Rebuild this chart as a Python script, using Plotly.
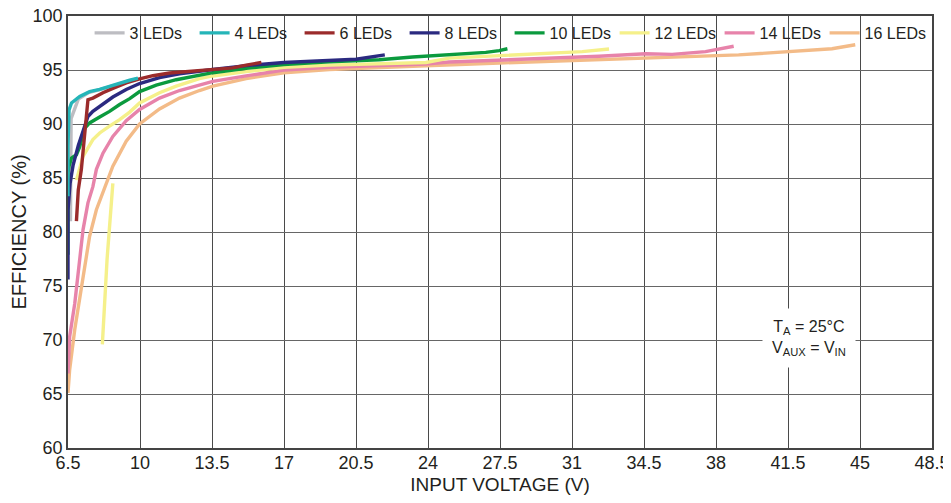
import plotly.graph_objects as go

# ---- data ----
x_ticks = [6.5, 10, 13.5, 17, 20.5, 24, 27.5, 31, 34.5, 38, 41.5, 45, 48.5]
x_tick_text = ["6.5", "10", "13.5", "17", "20.5", "24", "27.5", "31", "34.5", "38", "41.5", "45", "48.5"]
y_ticks = [60, 65, 70, 75, 80, 85, 90, 95, 100]

v3 = [6.62, 6.62, 6.65, 7.0, 7.5, 8.0, 8.5, 9.0, 9.5, 9.9]
e3 = [81.0, 86.0, 90.5, 92.3, 92.9, 93.15, 93.45, 93.75, 94.0, 94.2]

v4 = [6.5, 6.5, 6.55, 6.67, 7.07, 7.55, 8.04, 8.52, 9.01, 9.5, 9.9]
e4 = [83.3, 88.0, 91.3, 91.95, 92.55, 93.0, 93.2, 93.5, 93.8, 94.05, 94.25]

v6 = [6.91, 7.0, 7.15, 7.31, 7.47, 7.71, 8.2, 8.68, 9.33, 9.98, 10.63, 11.44, 12.57, 13.54, 14.5, 15.16, 15.9]
e6 = [81.0, 83.9, 85.8, 89.0, 92.25, 92.4, 92.9, 93.3, 93.8, 94.17, 94.47, 94.72, 94.87, 95.0, 95.2, 95.45, 95.7]

v8 = [6.5, 6.5, 6.6, 6.75, 7.0, 7.47, 7.71, 8.2, 8.68, 9.33, 9.98, 10.95, 11.92, 13.54, 15.16, 16.99, 19.25, 20.5, 21.9]
e8 = [75.6, 82.0, 84.5, 86.2, 88.0, 90.7, 91.17, 91.8, 92.5, 93.2, 93.75, 94.3, 94.65, 95.05, 95.4, 95.7, 95.9, 96.0, 96.4]

v10 = [6.5, 6.5, 6.55, 6.67, 6.91, 7.07, 7.31, 7.55, 8.04, 8.52, 9.01, 9.5, 9.98, 10.79, 11.76, 12.89, 13.54,
       15.16, 16.99, 19.2, 21.63, 23.25, 24.22, 25.84, 26.81, 27.46, 27.86]
e10 = [77.9, 85.5, 86.1, 86.85, 87.15, 87.9, 89.6, 90.1, 90.65, 91.17, 91.8, 92.35, 93.0, 93.6, 94.1, 94.55, 94.75,
       95.15, 95.5, 95.75, 95.95, 96.2, 96.3, 96.5, 96.63, 96.8, 96.97]

v12 = [8.17, 8.4, 8.68, None, 6.91, 7.23, 7.71, 8.04, 8.52, 9.01, 9.5, 9.98, 10.95, 11.76, 12.89, 13.54, 15.16,
       16.99, 19.2, 21.63, 23.9, 25.03, 27.46, 29.88, 31.5, 32.8]
e12 = [69.6, 77.5, 84.5, None, 84.8, 87.0, 88.55, 89.17, 89.8, 90.4, 91.1, 91.95, 92.9, 93.5, 94.2, 94.45, 94.85,
       95.25, 95.45, 95.6, 95.7, 96.1, 96.33, 96.57, 96.7, 96.95]

v14 = [6.5, 6.58, 6.83, 7.07, 7.23, 7.47, 7.71, 7.88, 8.2, 8.68, 9.33, 9.98, 10.95, 11.92, 12.89, 13.54, 15.16,
       16.99, 19.2, 21.63, 23.9, 25.03, 27.46, 29.88, 32.31, 34.58, 35.87, 37.49, 38.86]
e14 = [66.9, 70.3, 73.4, 77.1, 80.2, 82.7, 84.2, 85.8, 87.3, 88.85, 90.3, 91.35, 92.4, 93.1, 93.6, 93.95, 94.45,
       95.0, 95.25, 95.4, 95.55, 95.74, 95.9, 96.1, 96.27, 96.5, 96.45, 96.7, 97.2]

v16 = [6.5, 6.58, 6.83, 7.07, 7.31, 7.55, 7.88, 8.36, 8.68, 9.33, 9.98, 10.95, 11.92, 12.89, 13.54, 15.16, 16.99,
       19.2, 21.63, 23.9, 27.46, 32.31, 34.58, 39.1, 43.64, 44.77]
e16 = [65.1, 67.25, 71.0, 74.0, 77.1, 79.6, 82.06, 84.5, 86.1, 88.4, 90.0, 91.4, 92.4, 93.1, 93.5, 94.2, 94.75,
       95.05, 95.25, 95.4, 95.65, 95.95, 96.05, 96.4, 96.97, 97.34]

names = ["3 LEDs", "4 LEDs", "6 LEDs", "8 LEDs", "10 LEDs", "12 LEDs", "14 LEDs", "16 LEDs"]
xs = [v3, v4, v6, v8, v10, v12, v14, v16]
ys = [e3, e4, e6, e8, e10, e12, e14, e16]
colors = ["#bdbdc2", "#25b5b8", "#9b2b2b", "#2b2a80", "#0b9a3e", "#f5f08a", "#e783aa", "#f3bb88"]

# draw order: wide low curves first, steep high-efficiency curves on top
order = [7, 6, 5, 0, 4, 3, 2, 1]

fig = go.Figure()
for i in order:
    fig.add_trace(go.Scatter(
        x=xs[i], y=ys[i], mode="lines", name=names[i],
        line=dict(color=colors[i], width=3.4),
        legendrank=i + 1,
    ))

# the page body has an 8px margin: the figure is sized so the page fits the window
fig.update_layout(
    width=943, height=487,
    margin=dict(l=60, r=19, t=8, b=47),
    paper_bgcolor="white", plot_bgcolor="white",
    font=dict(family="Liberation Sans, Arial, sans-serif", color="#231f20"),
    showlegend=True,
    legend=dict(
        orientation="h", x=0.025, y=1.0, xanchor="left", yanchor="top",
        bgcolor="rgba(0,0,0,0)", font=dict(size=16, color="#231f20"),
        entrywidth=60, entrywidthmode="pixels", itemwidth=30,
        traceorder="normal",
    ),
    xaxis=dict(
        range=[6.5, 48.5], tickvals=x_ticks, ticktext=x_tick_text,
        showgrid=True, gridcolor="#4a4a4a", gridwidth=1,
        showline=True, linecolor="#444444", linewidth=1.5, mirror=True,
        ticks="", zeroline=False, automargin=False,
        ticklabeloverflow="allow", ticklabelstandoff=-2,
        tickfont=dict(size=18, family="Liberation Sans Narrow, Arial Narrow, Liberation Sans, Arial"),
        title=dict(text="INPUT VOLTAGE (V)", standoff=5,
                   font=dict(size=19, family="Liberation Sans Narrow, Arial Narrow, Liberation Sans, Arial")),
    ),
    yaxis=dict(
        range=[60, 100], tickvals=y_ticks,
        showgrid=True, gridcolor="#666666", gridwidth=1,
        showline=True, linecolor="#444444", linewidth=1.5, mirror=True,
        ticks="", zeroline=False, automargin=False,
        ticklabeloverflow="allow",
        tickfont=dict(size=18),
        title=dict(text="EFFICIENCY (%)", standoff=4, font=dict(size=20)),
    ),
)

fig.add_annotation(
    x=42.5, y=70.2, xref="x", yref="y",
    text="T<sub>A</sub> = 25°C<br>V<sub>AUX</sub> = V<sub>IN</sub>",
    showarrow=False, font=dict(size=16, color="#231f20"),
    bgcolor="white", borderpad=9, align="center",
)

fig.write_html("out.html")
